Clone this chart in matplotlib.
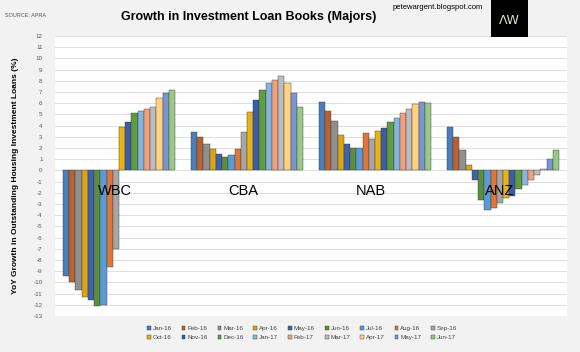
#!/usr/bin/env python3
"""Growth in investment loan books of the four majors, grouped bars by month."""

import matplotlib

matplotlib.use("Agg")
import matplotlib.pyplot as plt
import numpy as np
from matplotlib.patches import Patch, Rectangle


BANKS = ["WBC", "CBA", "NAB", "ANZ"]
MONTHS = [
    "Jan-16", "Feb-16", "Mar-16", "Apr-16", "May-16", "Jun-16", "Jul-16", "Aug-16", "Sep-16",
    "Oct-16", "Nov-16", "Dec-16", "Jan-17", "Feb-17", "Mar-17", "Apr-17", "May-17", "Jun-17",
]

# YoY growth (%) per bank, one value per month above
WBC = [-9.4, -10.0, -10.7, -11.3, -11.6, -12.1, -12.0, -8.6, -7.0,
       3.9, 4.3, 5.1, 5.3, 5.5, 5.7, 6.5, 6.9, 7.2]
CBA = [3.4, 3.0, 2.4, 1.9, 1.5, 1.2, 1.4, 1.9, 3.4,
       5.2, 6.3, 7.2, 7.8, 8.1, 8.4, 7.8, 6.9, 5.7]
NAB = [6.1, 5.3, 4.4, 3.2, 2.4, 2.0, 2.0, 3.3, 2.8,
       3.5, 3.8, 4.3, 4.7, 5.1, 5.5, 5.9, 6.1, 6.0]
ANZ = [3.9, 3.0, 1.8, 0.5, -0.9, -2.6, -3.5, -3.4, -2.9,
       -2.5, -2.3, -1.7, -1.3, -0.85, -0.45, 0.15, 1.0, 1.8]

MONTH_COLORS = [
    "#4A7EBB", "#B9622E", "#8F8F8F", "#D9A514", "#3F63AE", "#5B8F3E",
    "#5B9BD5", "#E0773A", "#A6A6A6", "#E8B215", "#3A5DA8", "#5E9B43",
    "#87B5E0", "#F0A07A", "#BDBDBD", "#FFD27F", "#7B95D0", "#98C882",
]

Y_TICKS = list(range(-13, 13))

FONT = ["Liberation Sans", "DejaVu Sans"]


def main() -> None:
    plt.rcParams["font.family"] = FONT
    fig = plt.figure(figsize=(5.8, 3.52), dpi=100)
    fig.patch.set_facecolor("#F2F2F2")
    ax = fig.add_axes([55 / 580, 1 - 316 / 352, 512 / 580, 280 / 352])
    ax.set_facecolor("white")

    values = np.array([WBC, CBA, NAB, ANZ])
    n_months = len(MONTHS)
    group_width = 0.875
    bar_width = group_width / n_months
    x = np.arange(len(BANKS))

    handles = []
    for m, (label, color) in enumerate(zip(MONTHS, MONTH_COLORS)):
        offset = -group_width / 2 + bar_width * (m + 0.5)
        ax.bar(
            x + offset,
            values[:, m],
            width=bar_width,
            color=color,
            edgecolor="#3A3A3A",
            linewidth=0.3,
            zorder=3,
        )
        handles.append(Patch(facecolor=color, edgecolor="#3A3A3A", linewidth=0.3, label=label))

    for i, bank in enumerate(BANKS):
        ax.text(i - 0.03, -1.85, bank, ha="center", va="center", fontsize=10.5,
                color="black", zorder=4)

    ax.set_xlim(-0.5, len(BANKS) - 0.5)
    ax.set_ylim(-13, 12)
    ax.set_xticks([])
    ax.set_yticks(Y_TICKS)
    ax.set_yticklabels([str(t) for t in Y_TICKS], fontsize=4.5, color="#595959")
    ax.tick_params(axis="y", length=0, pad=9)
    ax.grid(axis="y", color="#D9D9D9", linewidth=0.6, zorder=0)
    for spine in ax.spines.values():
        spine.set_visible(False)

    ax.set_ylabel("YoY Growth in Outstanding Housing Investment Loans (%)",
                  fontsize=6, fontweight="bold", labelpad=10)

    fig.text(0.428, 0.952, "Growth in Investment Loan Books (Majors)", ha="center",
             va="center", fontsize=9, fontweight="bold")
    fig.text(0.008, 0.957, "SOURCE: APRA", ha="left", va="center", fontsize=4,
             color="#555555")
    fig.text(0.755, 0.978, "petewargent.blogspot.com", ha="center", va="center",
             fontsize=5.5)

    logo = Rectangle((491 / 580, 1 - 37 / 352), 37 / 580, 37 / 352,
                     transform=fig.transFigure, facecolor="black", edgecolor="none")
    fig.patches.append(logo)
    fig.text(509.5 / 580, 1 - 20 / 352, "ΛW", ha="center", va="center",
             fontsize=9, color="#E8E0C0", family=["DejaVu Sans"])

    # legend fills column by column; reorder so rows read Jan-16..Sep-16, Oct-16..Jun-17
    n_cols = 9
    order = [r * n_cols + c for c in range(n_cols) for r in range(2)]
    legend = fig.legend(
        [handles[k] for k in order],
        [MONTHS[k] for k in order],
        loc="center",
        bbox_to_anchor=(302 / 580, 1 - 333 / 352),
        ncol=n_cols,
        fontsize=4.5,
        frameon=False,
        handlelength=0.6,
        handleheight=0.6,
        handletextpad=0.3,
        columnspacing=1.6,
        labelspacing=0.6,
    )
    for text in legend.get_texts():
        text.set_color("#404040")

    fig.savefig("out.png", dpi=100, facecolor=fig.get_facecolor())
    plt.close(fig)


if __name__ == "__main__":
    main()
